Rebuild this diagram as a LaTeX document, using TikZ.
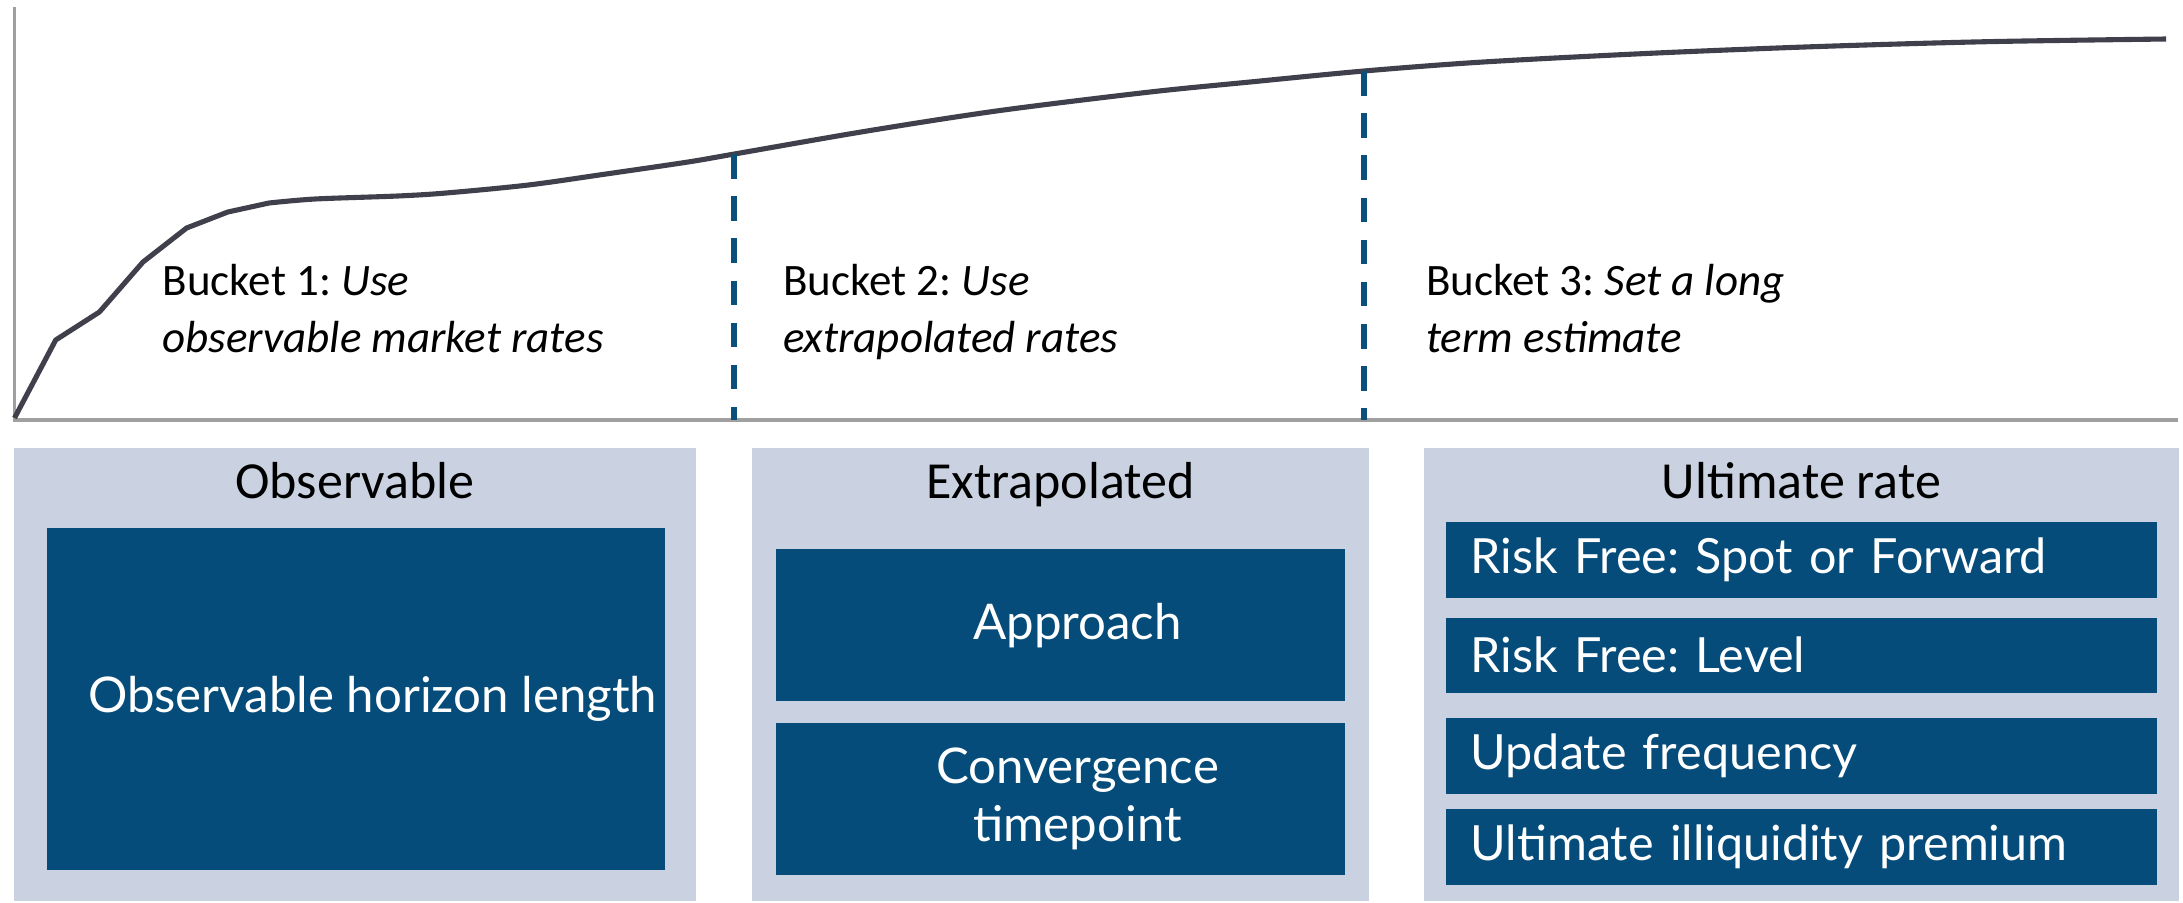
\documentclass[tikz,border=0pt]{standalone}
\usepackage{fontspec}
\setmainfont{Carlito}
\newfontfamily\tilefont{Lato}
\usepackage{tikz}
\usetikzlibrary{positioning}
\frenchspacing

\definecolor{panelgray}{HTML}{CAD2E1}
\definecolor{deepblue}{HTML}{054C7A}
\definecolor{curvegray}{HTML}{40404C}
\definecolor{axisgray}{HTML}{A0A0A0}
\definecolor{cutblue}{HTML}{0B4F7C}

\begin{document}
\begin{tikzpicture}[
  panel/.style={fill=panelgray, anchor=south west, inner sep=0pt},
  heading/.style={anchor=base, inner sep=0pt, font=\fontsize{14.8}{18}\selectfont},
  tile/.style={fill=deepblue, anchor=south west, inner sep=0pt},
  tiletext/.style={text=white, align=center, xshift=0.17cm,
    font=\tilefont\fontsize{14}{16.6}\selectfont},
  lefttile/.style={tile, text=white, align=left, text width=6.615cm, inner xsep=0.25cm,
    font=\tilefont\fontsize{13.8}{16.6}\selectfont},
  bucket/.style={anchor=base west, inner sep=0pt, align=left, font=\fontsize{12.8}{16.2}\selectfont},
  curve/.style={curvegray, line width=1.45pt, line join=round},
  axis/.style={axisgray, line width=1pt},
  cutline/.style={cutblue, line width=1.7pt, dash pattern=on 7pt off 5pt}
]
\useasboundingbox (0,0) rectangle (21.83,9.02);

% --- Axes ---
\coordinate (origin) at (0.145,4.82);
\coordinate (ytop) at (0.145,8.95);
\coordinate (xend) at (21.78,4.82);
\draw[axis] (ytop) -- (origin) -- (xend);

% --- Rate curve (kinked short end, smooth long end) ---
\draw[curve] plot coordinates {(0.145,4.84) (0.557,5.62) (0.994,5.90) (1.43,6.40)
  (1.866,6.74) (2.278,6.90) (2.69,6.99)}
  -- plot[smooth, tension=0.5] coordinates {(2.69,6.99) (3.15,7.03) (3.975,7.06) (4.46,7.09)
  (5.284,7.17) (6.06,7.28) (6.88,7.40) (7.344,7.48) (8.67,7.71) (10.0,7.915)
  (11.5,8.10) (12.5,8.20) (13.64,8.31) (14.83,8.40) (16.5,8.487) (18.13,8.553)
  (19.86,8.603) (21.66,8.63)};

% --- Bucket boundaries ---
\coordinate (k1) at (7.344,7.48);
\coordinate (k2) at (13.64,8.31);
\draw[cutline] (k1) -- (k1 |- origin);
\draw[cutline] (k2) -- (k2 |- origin);

% --- Bucket labels ---
\node[bucket] (b1) at (1.62,5.50) {Bucket 1: \textit{Use}\\\textit{observable market rates}};
\node[bucket] (b2) at (7.824,5.50) {Bucket 2: \textit{Use}\\\textit{extrapolated rates}};
\node[bucket] (b3) at (14.256,5.50) {Bucket 3: \textit{Set a long}\\\textit{term estimate}};

% --- Panels ---
\node[panel, minimum width=6.826cm, minimum height=4.53cm] (obs) at (0.13,0) {};
\node[panel, minimum width=6.176cm, minimum height=4.53cm] (extra) at (7.51,0) {};
\node[panel, minimum width=7.545cm, minimum height=4.53cm] (ult) at (14.235,0) {};

\node[heading] (obsT) at ([yshift=-0.51cm]obs.north) {Observable};
\node[heading] (extraT) at ([yshift=-0.51cm]extra.north) {Extrapolated};
\node[heading] (ultT) at ([yshift=-0.51cm]ult.north) {Ultimate rate};

% --- Observable ---
\node[tile, minimum width=6.18cm, minimum height=3.417cm,
  label={[tiletext]center:Observable horizon length}] (horizon) at (0.46,0.313) {};

% --- Extrapolated ---
\node[tile, minimum width=5.685cm, minimum height=1.517cm,
  label={[tiletext]center:Approach}] (approach) at (7.755,2.003) {};
\node[tile, minimum width=5.685cm, minimum height=1.517cm,
  label={[tiletext]center:Convergence\\timepoint}] (conv) at (7.755,0.263) {};

% --- Ultimate rate ---
\node[lefttile, minimum height=0.764cm] (spot) at (14.45,3.033) {Risk Free: Spot or Forward};
\node[lefttile, minimum height=0.754cm] (level) at (14.45,2.083) {Risk Free: Level};
\node[lefttile, minimum height=0.764cm] (freq) at (14.45,1.073) {Update frequency};
\node[lefttile, minimum height=0.764cm] (illiq) at (14.45,0.163) {Ultimate illiquidity premium};

\end{tikzpicture}
\end{document}
